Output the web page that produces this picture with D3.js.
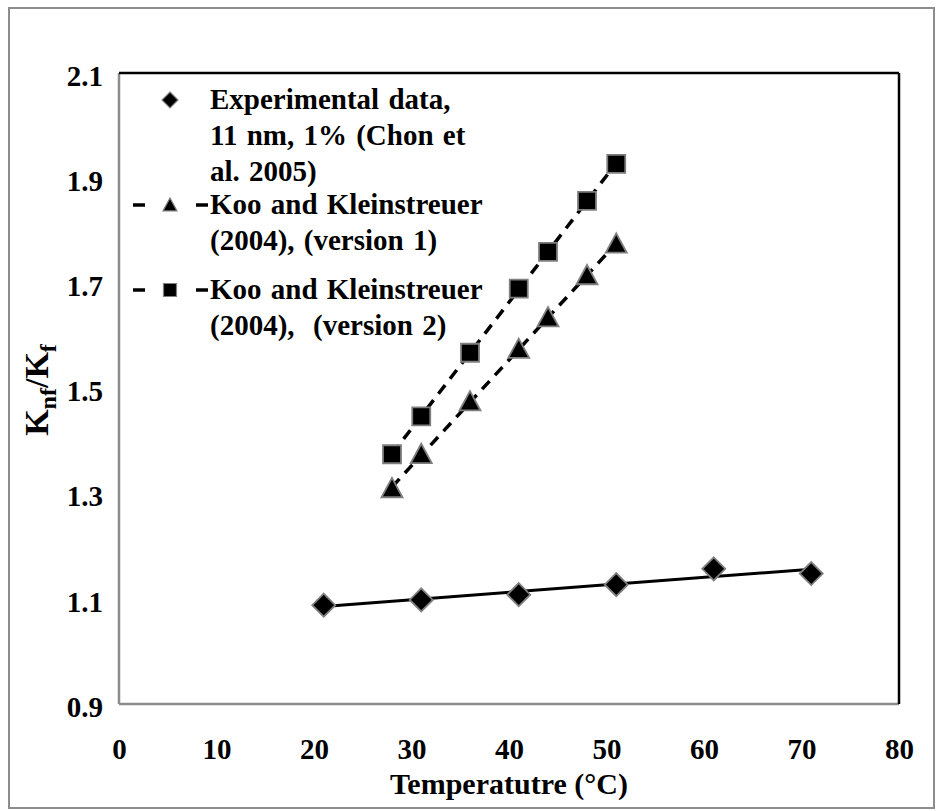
<!DOCTYPE html>
<html>
<head>
<meta charset="utf-8">
<script src="https://cdn.jsdelivr.net/npm/d3@7"></script>
<style>
  html, body { margin: 0; padding: 0; background: #fff; }
  svg { display: block; }
  svg text { font-family: "Liberation Serif", "Times New Roman", Times, "DejaVu Serif", serif !important; font-weight: bold; fill: #000; }
</style>
</head>
<body>
<svg id="chart" width="940" height="811"></svg>
<script>
// Experimental thermal conductivity ratio (Chon et al. 2005)
const expTemp = [21, 31, 41, 51, 61, 71];
const expRatio = [1.088, 1.098, 1.108, 1.127, 1.157, 1.148];

// Koo and Kleinstreuer (2004) model predictions
const modelTemp = [28, 31, 36, 41, 44, 48, 51];
const v1Ratio = [1.31, 1.375, 1.475, 1.575, 1.635, 1.715, 1.775];
const v2Ratio = [1.375, 1.447, 1.568, 1.69, 1.76, 1.857, 1.927];

const xTicks = [0, 10, 20, 30, 40, 50, 60, 70, 80];
const yTicks = [0.9, 1.1, 1.3, 1.5, 1.7, 1.9, 2.1];

const legendLabels = [
  ["Experimental data,", "11 nm, 1% (Chon et", "al. 2005)"],
  ["Koo and Kleinstreuer", "(2004), (version 1)"],
  ["Koo and Kleinstreuer", "(2004),  (version 2)"]
];

const svg = d3.select("#chart");
const plot = { left: 119, right: 899, top: 73, bottom: 704 };
const fontSize = 29;

const x = d3.scaleLinear().domain([0, 80]).range([plot.left, plot.right]);
const y = d3.scaleLinear().domain([0.9, 2.1]).range([plot.bottom, plot.top]);

// Outer chart border
svg.append("rect")
  .attr("x", 9).attr("y", 8).attr("width", 925).attr("height", 800)
  .attr("fill", "none").attr("stroke", "#8c8c8c").attr("stroke-width", 2);

// Plot-area frame: grey left/bottom, dark top/right
svg.append("line").attr("x1", plot.left).attr("x2", plot.left)
  .attr("y1", plot.top).attr("y2", plot.bottom)
  .attr("stroke", "#8c8c8c").attr("stroke-width", 2.5);
svg.append("line").attr("x1", plot.left).attr("x2", plot.right)
  .attr("y1", plot.bottom).attr("y2", plot.bottom)
  .attr("stroke", "#8c8c8c").attr("stroke-width", 2.5);
svg.append("line").attr("x1", plot.left).attr("x2", plot.right)
  .attr("y1", plot.top).attr("y2", plot.top)
  .attr("stroke", "#000").attr("stroke-width", 2.5);
svg.append("line").attr("x1", plot.right).attr("x2", plot.right)
  .attr("y1", plot.top).attr("y2", plot.bottom)
  .attr("stroke", "#000").attr("stroke-width", 2.5);

// Axes (labels only; the frame carries the lines)
const xAxis = svg.append("g")
  .attr("transform", `translate(0,${plot.bottom + 31})`)
  .call(d3.axisBottom(x).tickValues(xTicks).tickSize(0).tickFormat(d3.format("d")));
xAxis.select(".domain").remove();
xAxis.attr("font-family", null);
xAxis.selectAll("text").attr("font-size", fontSize).attr("fill", "#000");

const yAxis = svg.append("g")
  .attr("transform", `translate(${plot.left - 13},0)`)
  .call(d3.axisLeft(y).tickValues(yTicks).tickSize(0).tickFormat(d3.format(".1f")));
yAxis.select(".domain").remove();
yAxis.attr("font-family", null);
yAxis.selectAll("text")
  .attr("font-size", fontSize).attr("fill", "#000").attr("dy", "0.42em");

// Axis titles
svg.append("text")
  .attr("x", (plot.left + plot.right) / 2).attr("y", 794)
  .attr("text-anchor", "middle").attr("font-size", fontSize + 1)
  .text("Temperatutre (°C)");

const yTitle = svg.append("text")
  .attr("transform", "translate(48,390) rotate(-90)")
  .attr("text-anchor", "middle").attr("font-size", 34);
yTitle.append("tspan").text("K");
yTitle.append("tspan").attr("font-size", 24).attr("dy", 8).text("nf");
yTitle.append("tspan").attr("dy", -8).text("/K");
yTitle.append("tspan").attr("font-size", 24).attr("dy", 8).text("f");

// Least-squares linear trendline over a series
function trend(xs, ys) {
  const mx = d3.mean(xs), my = d3.mean(ys);
  const sxy = d3.sum(xs, (v, i) => (v - mx) * (ys[i] - my));
  const sxx = d3.sum(xs, v => (v - mx) * (v - mx));
  const b = sxy / sxx, a = my - b * mx;
  const x0 = d3.min(xs), x1 = d3.max(xs);
  return [[x0, a + b * x0], [x1, a + b * x1]];
}

const line = d3.line().x(d => x(d[0])).y(d => y(d[1]));

svg.append("path").attr("d", line(trend(expTemp, expRatio)))
  .attr("fill", "none").attr("stroke", "#000").attr("stroke-width", 3);
svg.append("path").attr("d", line(trend(modelTemp, v1Ratio)))
  .attr("fill", "none").attr("stroke", "#000").attr("stroke-width", 3.5)
  .attr("stroke-dasharray", "11,8");
svg.append("path").attr("d", line(trend(modelTemp, v2Ratio)))
  .attr("fill", "none").attr("stroke", "#000").attr("stroke-width", 3.5)
  .attr("stroke-dasharray", "11,8");

// Markers
const diamond = r => `M0,${-r}L${r},0L0,${r}L${-r},0Z`;
const square = s => `M${-s / 2},${-s / 2}h${s}v${s}h${-s}Z`;
const triangle = w => `M0,${-w * 0.5}L${w / 2},${w * 0.42}L${-w / 2},${w * 0.42}Z`;

function markers(xs, ys, shape) {
  svg.append("g").selectAll("path")
    .data(xs.map((v, i) => [v, ys[i]]))
    .join("path")
    .attr("transform", d => `translate(${x(d[0])},${y(d[1])})`)
    .attr("d", shape)
    .attr("fill", "#000").attr("stroke", "#7f7f7f").attr("stroke-width", 1.8);
}
markers(modelTemp, v1Ratio, triangle(21));
markers(modelTemp, v2Ratio, square(18));
markers(expTemp, expRatio, diamond(11.5));

// Legend
const legend = svg.append("g");
const legendRows = [100, 205, 290];
const lineGap = 36;
const legendShapes = [diamond(8), triangle(14), square(13)];

legendLabels.forEach((lines, i) => {
  const cy = legendRows[i];
  if (i > 0) {
    legend.append("line").attr("x1", 133).attr("x2", 208)
      .attr("y1", cy).attr("y2", cy)
      .attr("stroke", "#000").attr("stroke-width", 3.5)
      .attr("stroke-dasharray", "12,51,12");
  }
  legend.append("path").attr("transform", `translate(170,${cy})`)
    .attr("d", legendShapes[i])
    .attr("fill", "#000").attr("stroke", "#7f7f7f").attr("stroke-width", 1.2);
  lines.forEach((t, j) => {
    legend.append("text")
      .attr("x", 210).attr("y", cy + 9 + j * lineGap)
      .attr("font-size", fontSize)
      .style("white-space", "pre")
      .attr("word-spacing", 2)
      .text(t);
  });
});
</script>
</body>
</html>
